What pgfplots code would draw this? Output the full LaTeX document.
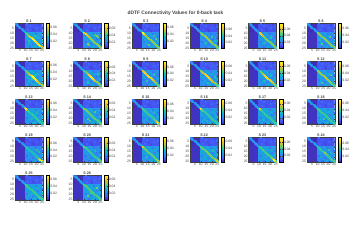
\documentclass[border=0pt]{standalone}
\usepackage{pgfplots}
\usepackage{pgfplotstable}
\usepackage{fontspec}
\setmainfont{Liberation Sans}
\pgfplotsset{compat=1.18}
\usepgfplotslibrary{patchplots}
\definecolor{tk}{gray}{0.25}
\pgfplotsset{
 colormap={parula}{rgb=(0.2422,0.1504,0.6603) rgb=(0.2803,0.2782,0.9221) rgb=(0.2440,0.4358,0.9988) rgb=(0.1540,0.5902,0.9218) rgb=(0.0297,0.7082,0.8163) rgb=(0.1938,0.7758,0.6251) rgb=(0.5044,0.7993,0.3480) rgb=(0.8634,0.7406,0.1596) rgb=(0.9892,0.8136,0.1885) rgb=(0.9769,0.9839,0.0805)},
 pane/.style={
  scale only axis,width=27.7bp,height=25bp,anchor=south west,
  xmin=0.5,xmax=25.5,ymin=0.5,ymax=25.5,y dir=reverse,
  xtick={5,10,15,20,25},ytick={5,10,15,20,25},
  tick align=inside,major tick length=0.8bp,
  axis line style={tk,line width=0.3pt},tick style={tk,line width=0.2pt},
  tick label style={font=\fontsize{3.4}{4}\selectfont,text=tk,inner sep=0.8pt},
  /pgf/number format/assume math mode=true,
  axis on top,
  colorbar,
  colorbar style={at={(1.12,0)},anchor=south west,width=3.4bp,height=25bp,
    ytick={0.02,0.04,0.06},scaled y ticks=false,
    /pgf/number format/fixed,/pgf/number format/fixed zerofill,/pgf/number format/precision=2,
    /pgf/number format/assume math mode=true,
    tick label style={font=\fontsize{3.4}{4}\selectfont,text=tk,inner sep=0.8pt},
    major tick length=0.6bp,tick align=inside},
 },
 cellmarks/.style={scatter,only marks,mark=square*,mark size=0.5bp,forget plot,
   mark options={line width=0.05pt},
   scatter/use mapped color={draw=mapped color,fill=mapped color}},
}
% diagonal of each subject's matrix
\pgfplotstableread{
i S1 S2 S3 S4 S5 S6 S7 S8 S9 S10 S11 S12 S13 S14 S15 S16 S17 S18 S19 S20 S21 S22 S23 S24 S25 S26
1 .024 .026 .025 .028 .024 .026 .024 .025 .024 .026 .024 .026 .023 .028 .025 .024 .024 .026 .022 .026 .023 .025 .024 .025 .024 .026
2 .025 .028 .024 .026 .026 .028 .025 .026 .025 .028 .025 .028 .024 .028 .024 .026 .025 .026 .024 .028 .024 .026 .025 .026 .025 .028
3 .026 .028 .026 .028 .025 .026 .026 .026 .026 .026 .026 .028 .025 .030 .026 .026 .024 .028 .024 .026 .026 .026 .024 .028 .026 .030
4 .026 .030 .025 .028 .026 .028 .026 .028 .025 .028 .025 .030 .026 .030 .025 .025 .026 .028 .026 .028 .025 .028 .026 .026 .026 .028
5 .028 .028 .026 .030 .024 .026 .025 .026 .026 .030 .026 .028 .024 .028 .026 .026 .025 .026 .024 .030 .026 .026 .025 .028 .024 .030
6 .025 .030 .028 .028 .026 .030 .026 .028 .024 .026 .025 .030 .026 .030 .024 .028 .026 .030 .026 .028 .024 .028 .024 .030 .026 .028
7 .026 .028 .026 .030 .025 .028 .024 .026 .026 .028 .026 .028 .025 .028 .026 .026 .024 .028 .024 .026 .026 .026 .026 .028 .025 .030
8 .028 .030 .028 .028 .026 .028 .026 .030 .025 .030 .028 .030 .026 .030 .025 .028 .026 .026 .026 .030 .025 .028 .025 .026 .026 .028
9 .030 .034 .034 .032 .030 .032 .028 .032 .030 .034 .032 .034 .050 .034 .032 .040 .038 .034 .030 .034 .032 .034 .030 .032 .032 .034
10 .040 .062 .072 .050 .066 .052 .042 .046 .060 .052 .044 .050 .072 .050 .045 .066 .064 .042 .040 .050 .060 .045 .042 .044 .042 .044
11 .042 .064 .070 .052 .066 .054 .044 .048 .066 .054 .046 .052 .060 .048 .044 .050 .050 .044 .042 .048 .050 .044 .044 .042 .044 .046
12 .046 .060 .056 .054 .064 .050 .046 .050 .068 .060 .048 .054 .044 .046 .043 .044 .042 .042 .042 .046 .046 .046 .042 .046 .042 .044
13 .050 .058 .050 .056 .056 .052 .050 .054 .064 .062 .052 .050 .042 .048 .044 .042 .040 .040 .040 .044 .044 .044 .044 .044 .040 .042
14 .060 .056 .048 .058 .052 .050 .056 .064 .062 .064 .056 .052 .040 .046 .042 .040 .040 .042 .040 .046 .046 .046 .044 .042 .042 .044
15 .066 .054 .050 .056 .050 .052 .068 .070 .066 .066 .064 .054 .040 .044 .042 .042 .042 .040 .042 .044 .044 .048 .042 .046 .040 .042
16 .068 .052 .052 .054 .050 .054 .072 .072 .070 .064 .066 .056 .042 .046 .044 .040 .040 .042 .040 .046 .046 .046 .046 .054 .042 .044
17 .070 .052 .050 .056 .052 .050 .070 .074 .068 .066 .068 .054 .040 .044 .042 .042 .042 .040 .042 .044 .044 .048 .044 .052 .040 .042
18 .068 .050 .048 .058 .050 .052 .068 .070 .064 .062 .066 .056 .042 .046 .044 .040 .040 .042 .040 .046 .046 .046 .046 .048 .042 .044
19 .066 .050 .050 .056 .052 .050 .066 .066 .062 .060 .064 .052 .040 .044 .042 .042 .042 .040 .042 .044 .044 .048 .044 .044 .040 .044
20 .064 .050 .048 .054 .050 .052 .060 .060 .060 .058 .062 .050 .042 .046 .044 .040 .040 .042 .042 .046 .046 .046 .046 .046 .042 .042
21 .066 .052 .050 .052 .052 .050 .056 .056 .054 .056 .060 .052 .040 .044 .046 .042 .042 .040 .044 .044 .044 .048 .048 .044 .040 .044
22 .068 .052 .048 .054 .050 .050 .052 .054 .052 .054 .056 .050 .042 .046 .050 .042 .042 .042 .054 .046 .046 .050 .054 .046 .042 .042
23 .066 .050 .048 .052 .052 .052 .050 .052 .050 .050 .052 .048 .040 .044 .060 .040 .040 .040 .072 .050 .048 .056 .070 .048 .044 .044
24 .060 .052 .050 .054 .050 .050 .052 .050 .048 .048 .050 .048 .042 .046 .070 .042 .044 .042 .076 .054 .052 .060 .072 .050 .046 .044
25 .054 .050 .046 .050 .048 .048 .050 .048 .046 .046 .048 .046 .040 .044 .050 .040 .040 .040 .050 .046 .048 .052 .052 .044 .040 .042
}\diagT
\pgfplotstableread[row sep=\\]{
x y v\\ 10 11 .031\\ 11 10 .031\\ 11 12 .031\\ 12 11 .031\\ 12 13 .030\\ 13 12 .030\\ 13 14 .030\\ 14 13 .031\\
14 15 .031\\ 15 14 .030\\ 15 16 .031\\ 16 15 .031\\ 16 17 .031\\ 17 16 .030\\ 17 18 .030\\ 18 17 .031\\
18 19 .031\\ 19 18 .030\\ 19 20 .030\\ 20 19 .031\\ 20 21 .031\\ 21 20 .030\\ 21 22 .031\\ 22 21 .030\\
22 23 .031\\ 23 22 .031\\ 23 24 .030\\ 24 23 .031\\ 24 25 .030\\ 25 24 .030\\
12 17 .032\\ 17 12 .032\\ 13 20 .034\\ 20 13 .034\\ 15 22 .032\\ 22 15 .032\\ 18 24 .034\\ 24 18 .034\\
11 19 .018\\ 19 11 .018\\ 14 24 .018\\ 24 14 .018\\ 16 21 .019\\ 21 16 .019\\ 10 15 .030\\ 15 10 .030\\
14 3 .016\\ 20 5 .016\\ 12 7 .016\\ 22 2 .009\\ 17 8 .009\\ 24 4 .016\\ 16 6 .009\\ 11 1 .016\\
1 2 .012\\ 2 1 .012\\ 2 3 .012\\ 3 2 .012\\ 4 5 .012\\ 5 4 .012\\ 6 7 .012\\ 7 6 .012\\ 7 8 .012\\ 8 7 .012\\
}\sharedT
% \panel{n}{col}{row}{cmax}{TL}{TR}{BL}{BR}{extra cells}
\newcommand\panel[9]{%
\pgfmathsetmacro\px{15+58.4*#2}\pgfmathsetmacro\py{203.5-37.9*#3}%
\begin{axis}[pane,at={(\px bp,\py bp)},point meta min=0.001,point meta max=#4,
  after end axis/.code={\node[anchor=south,font=\bfseries\fontsize{3.7}{4}\selectfont,text=tk,inner sep=0.6pt] at (axis description cs:0.5,1) {S #1};}]
\addplot[patch,patch type=rectangle,shader=flat,point meta=\thisrow{v},forget plot] table[row sep=\\] {x y v\\
 0.5 0.5 #5\\ 9.5 0.5 #5\\ 9.5 9.5 #5\\ 0.5 9.5 #5\\
 9.5 0.5 #6\\ 25.5 0.5 #6\\ 25.5 9.5 #6\\ 9.5 9.5 #6\\
 0.5 9.5 #7\\ 9.5 9.5 #7\\ 9.5 25.5 #7\\ 0.5 25.5 #7\\
 9.5 9.5 #8\\ 25.5 9.5 #8\\ 25.5 25.5 #8\\ 9.5 25.5 #8\\};
\addplot+[cellmarks,point meta=\thisrow{v}] table[x=x,y=y] {\sharedT};
\addplot+[cellmarks,point meta=\thisrow{v}] table[x=x,y=y,row sep=\\] {x y v\\ #9};
\addplot+[cellmarks,point meta=\thisrow{S#1}] table[x=i,y=i] {\diagT};
\end{axis}}
\begin{document}
\begin{tikzpicture}[x=1bp,y=1bp]
\path[use as bounding box] (0,0) rectangle (357,252);
\node[font=\bfseries\fontsize{4.9}{5}\selectfont,text=tk,inner sep=0pt] at (175.5,238.3) {dDTF Connectivity Values for 0-back task};
\panel{1}{0}{0}{.072}{.003}{.012}{.004}{.026}{13 18 .040\\ 18 13 .040\\ 21 15 .038\\}
\panel{2}{1}{0}{.074}{.003}{.012}{.004}{.025}{13 21 .050\\ 14 22 .048\\ 21 13 .050\\ 22 14 .048\\ 20 12 .044\\}
\panel{3}{2}{0}{.072}{.003}{.012}{.004}{.024}{16 22 .044\\ 22 16 .044\\ 20 13 .040\\}
\panel{4}{3}{0}{.080}{.003}{.012}{.004}{.024}{20 14 .044\\ 14 20 .044\\ 22 18 .040\\}
\panel{5}{4}{0}{.077}{.003}{.012}{.004}{.024}{15 20 .040\\ 20 15 .040\\}
\panel{6}{5}{0}{.076}{.003}{.013}{.004}{.024}{14 21 .046\\ 21 14 .046\\ 12 17 .040\\}
\panel{7}{0}{1}{.070}{.003}{.012}{.004}{.026}{15 18 .040\\ 18 15 .040\\}
\panel{8}{1}{1}{.077}{.003}{.012}{.004}{.024}{13 22 .042\\ 22 13 .042\\}
\panel{9}{2}{1}{.077}{.003}{.012}{.004}{.024}{14 20 .042\\ 20 14 .042\\}
\panel{10}{3}{1}{.075}{.003}{.013}{.004}{.025}{16 22 .040\\ 22 16 .040\\}
\panel{11}{4}{1}{.075}{.003}{.012}{.004}{.025}{15 20 .038\\ 20 15 .038\\}
\panel{12}{5}{1}{.075}{.003}{.013}{.004}{.025}{14 22 .044\\ 22 14 .044\\}
\panel{13}{0}{2}{.073}{.003}{.012}{.004}{.026}{15 20 .036\\ 20 15 .036\\}
\panel{14}{1}{2}{.073}{.003}{.013}{.004}{.026}{13 20 .044\\ 20 13 .044\\ 15 22 .042\\}
\panel{15}{2}{2}{.075}{.003}{.012}{.004}{.026}{20 14 .038\\}
\panel{16}{3}{2}{.073}{.003}{.012}{.004}{.026}{15 22 .036\\}
\panel{17}{4}{2}{.073}{.003}{.012}{.004}{.026}{14 21 .036\\}
\panel{18}{5}{2}{.072}{.003}{.012}{.004}{.026}{15 20 .040\\}
\panel{19}{0}{3}{.080}{.003}{.012}{.004}{.025}{20 13 .044\\ 22 15 .042\\}
\panel{20}{1}{3}{.080}{.003}{.012}{.004}{.025}{20 14 .040\\}
\panel{21}{2}{3}{.072}{.003}{.012}{.004}{.026}{14 20 .036\\}
\panel{22}{3}{3}{.072}{.003}{.012}{.004}{.026}{21 14 .038\\}
\panel{23}{4}{3}{.075}{.003}{.012}{.004}{.026}{16 20 .036\\}
\panel{24}{5}{3}{.079}{.003}{.012}{.004}{.025}{20 13 .042\\ 22 16 .040\\}
\panel{25}{0}{4}{.072}{.003}{.012}{.004}{.026}{15 19 .036\\}
\panel{26}{1}{4}{.072}{.003}{.013}{.004}{.026}{13 21 .046\\ 21 13 .046\\ 16 18 .042\\}
\end{tikzpicture}
\end{document}
